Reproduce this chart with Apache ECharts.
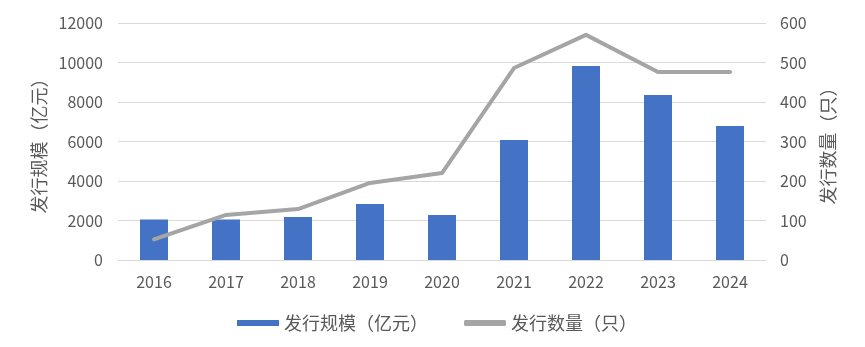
<!DOCTYPE html>
<html><head><meta charset="utf-8">
<script src="https://cdn.jsdelivr.net/npm/echarts@6/dist/echarts.min.js"></script>
<style>html,body{margin:0;padding:0;background:#fff}#c{width:865px;height:347px}</style>
</head><body><div id="c"></div>
<script>
const categories = ['2016','2017','2018','2019','2020','2021','2022','2023','2024'];
const scaleValues = [2050, 2050, 2180, 2840, 2280, 6080, 9820, 8350, 6790];
const countValues = [52, 114, 129, 195, 220, 486, 570, 476, 476];
const leftTicks = [0, 12000, 2000];
const rightTicks = [0, 600, 100];
const seriesNames = ['发行规模（亿元）', '发行数量（只）'];
const axisNames = ['发行规模（亿元）', '发行数量（只）'];

const font = '"Noto Sans CJK SC", "Noto Sans", sans-serif';
const txt = '#595959';
const chart = echarts.init(document.getElementById('c'), null, {renderer: 'canvas'});
chart.setOption({
  animation: false,
  textStyle: {fontFamily: font},
  grid: {left: 118, right: 99, top: 23, bottom: 87},
  legend: {
    left: 232, top: 309,
    itemWidth: 42, itemHeight: 6, itemGap: 36,
    textStyle: {color: txt, fontSize: 18, fontFamily: font},
    data: [
      {name: seriesNames[0], icon: 'rect'},
      {name: seriesNames[1], icon: 'roundRect', itemStyle: {color: '#a5a5a5'}}
    ]
  },
  xAxis: {
    type: 'category', data: categories,
    axisLine: {lineStyle: {color: '#d9d9d9', width: 1}},
    axisTick: {show: false},
    axisLabel: {color: txt, fontSize: 16, margin: 14, fontFamily: font}
  },
  yAxis: [
    {
      type: 'value', min: leftTicks[0], max: leftTicks[1], interval: leftTicks[2],
      name: axisNames[0], nameLocation: 'middle', nameGap: 70, nameRotate: 90,
      nameTextStyle: {color: txt, fontSize: 18, fontFamily: font},
      axisLabel: {color: txt, fontSize: 16, margin: 15, fontFamily: font, formatter: v => String(v)},
      splitLine: {lineStyle: {color: '#d9d9d9', width: 1}},
      axisLine: {show: false}, axisTick: {show: false}
    },
    {
      type: 'value', min: rightTicks[0], max: rightTicks[1], interval: rightTicks[2],
      name: axisNames[1], nameLocation: 'middle', nameGap: 53, nameRotate: 90,
      nameTextStyle: {color: txt, fontSize: 18, fontFamily: font},
      axisLabel: {color: txt, fontSize: 16, margin: 14, fontFamily: font, formatter: v => String(v)},
      splitLine: {show: false},
      axisLine: {show: false}, axisTick: {show: false}
    }
  ],
  series: [
    {
      name: seriesNames[0], type: 'bar', data: scaleValues, barWidth: 28,
      itemStyle: {color: '#4472c4'}
    },
    {
      name: seriesNames[1], type: 'line', yAxisIndex: 1, data: countValues,
      symbol: 'none', smooth: false,
      lineStyle: {color: '#a5a5a5', width: 4, cap: 'round', join: 'round'},
      itemStyle: {color: '#a5a5a5'}
    }
  ]
});
</script></body></html>
